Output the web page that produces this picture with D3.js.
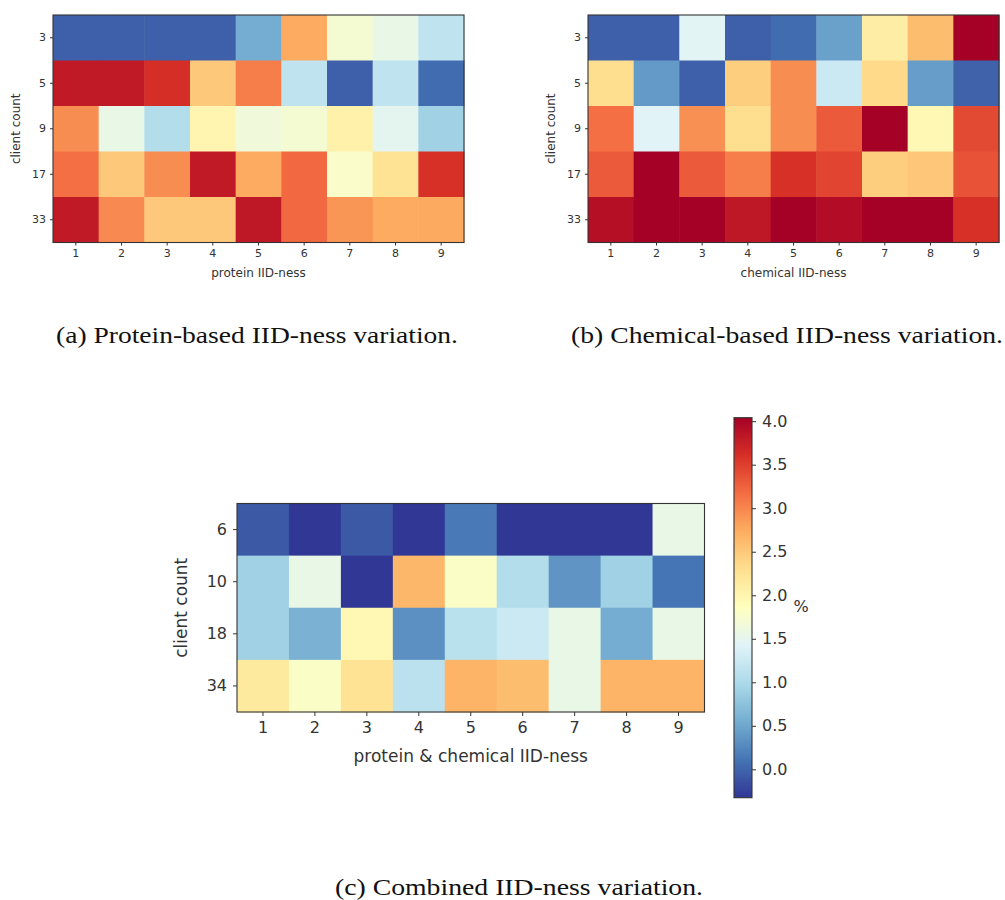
<!DOCTYPE html>
<html>
<head>
<meta charset="utf-8">
<script src="https://cdn.jsdelivr.net/npm/d3@7"></script>
<style>
  html, body { margin: 0; padding: 0; background: #fff; }
  svg { display: block; }
  .tick text { font-family: "DejaVu Sans", sans-serif; fill: #333; }
  .tick line { stroke: #333; }
  .caption { font-family: "Liberation Serif", "DejaVu Serif", serif; fill: #111; }
  .axis-label { font-family: "DejaVu Sans", sans-serif; fill: #333; }
</style>
</head>
<body>
<svg id="fig" width="1005" height="900"></svg>
<script>
// IID-ness levels along the x axis (shared by all three heatmaps)
const iidLevels = [1, 2, 3, 4, 5, 6, 7, 8, 9];

// (a) protein-based split: client counts and accuracy change (%)
const proteinClients = [3, 5, 9, 17, 33];
const proteinValues = [
  [-0.04, -0.04, -0.04, -0.04, 0.55, 2.75, 1.70, 1.55, 1.15],
  [3.80, 3.80, 3.62, 2.50, 3.05, 1.15, -0.04, 1.15, 0.05],
  [2.95, 1.55, 1.05, 2.00, 1.65, 1.70, 2.05, 1.48, 0.90],
  [3.15, 2.50, 2.95, 3.80, 2.75, 3.20, 1.78, 2.25, 3.60],
  [3.80, 2.97, 2.50, 2.50, 3.82, 3.20, 2.90, 2.75, 2.76]
];

// (b) chemical-based split
const chemicalClients = [3, 5, 9, 17, 33];
const chemicalValues = [
  [-0.04, -0.04, 1.45, -0.04, 0.05, 0.45, 2.10, 2.60, 4.05],
  [2.30, 0.40, -0.04, 2.45, 2.95, 1.25, 2.35, 0.42, -0.02],
  [3.15, 1.43, 2.93, 2.30, 2.95, 3.30, 4.05, 1.95, 3.42],
  [3.30, 4.05, 3.30, 3.05, 3.60, 3.45, 2.45, 2.52, 3.35],
  [3.90, 4.05, 4.05, 3.82, 4.05, 3.93, 4.05, 4.05, 3.60]
];

// (c) combined protein & chemical split
const combinedClients = [6, 10, 18, 34];
const combinedValues = [
  [-0.08, -0.32, -0.08, -0.32, 0.15, -0.32, -0.32, -0.32, 1.55],
  [0.90, 1.55, -0.32, 2.65, 1.80, 1.05, 0.35, 0.90, 0.11],
  [0.90, 0.60, 1.95, 0.32, 1.10, 1.25, 1.55, 0.55, 1.55],
  [2.15, 1.80, 2.25, 1.12, 2.68, 2.60, 1.55, 2.68, 2.68]
];

// colour bar range and tick labels
const colorMin = -0.326;
const colorMax = 4.04;
const colorbarTicks = [0.0, 0.5, 1.0, 1.5, 2.0, 2.5, 3.0, 3.5, 4.0];

// captions
const captionA = "(a) Protein-based IID-ness variation.";
const captionB = "(b) Chemical-based IID-ness variation.";
const captionC = "(c) Combined IID-ness variation.";

// RdYlBu reversed, piecewise linear between the 11 anchor colours
const anchors = d3.schemeRdYlBu[11].slice().reverse();
const color = d3.scaleLinear()
  .domain(anchors.map((_, i) => colorMin + (colorMax - colorMin) * i / (anchors.length - 1)))
  .range(anchors)
  .interpolate(d3.interpolateRgb)
  .clamp(true);

const svg = d3.select("#fig");

function heatmap(opts) {
  const g = svg.append("g");
  const x = d3.scaleBand().domain(iidLevels).range([opts.left, opts.right]);
  const y = d3.scaleBand().domain(opts.rows).range([opts.top, opts.bottom]);

  opts.values.forEach((row, ri) => {
    row.forEach((v, ci) => {
      g.append("rect")
        .attr("x", x(iidLevels[ci]))
        .attr("y", y(opts.rows[ri]))
        .attr("width", x.bandwidth() + 0.5)
        .attr("height", y.bandwidth() + 0.5)
        .attr("fill", color(v));
    });
  });

  g.append("rect")
    .attr("x", opts.left).attr("y", opts.top)
    .attr("width", opts.right - opts.left)
    .attr("height", opts.bottom - opts.top)
    .attr("fill", "none")
    .attr("stroke", "#333")
    .attr("stroke-width", 1.1);

  const xa = g.append("g")
    .attr("transform", `translate(0,${opts.bottom})`)
    .call(d3.axisBottom(x).tickSize(opts.tick).tickPadding(opts.pad));
  xa.select(".domain").remove();
  xa.selectAll("text").style("font-size", opts.font + "px");

  const ya = g.append("g")
    .attr("transform", `translate(${opts.left},0)`)
    .call(d3.axisLeft(y).tickSize(opts.tick).tickPadding(opts.pad));
  ya.select(".domain").remove();
  ya.selectAll("text").style("font-size", opts.font + "px");

  g.append("text").attr("class", "axis-label")
    .attr("x", (opts.left + opts.right) / 2)
    .attr("y", opts.xLabelY)
    .attr("text-anchor", "middle")
    .attr("dominant-baseline", "central")
    .style("font-size", opts.labelFont + "px")
    .text(opts.xLabel);

  g.append("text").attr("class", "axis-label")
    .attr("transform", `translate(${opts.yLabelX},${(opts.top + opts.bottom) / 2}) rotate(-90)`)
    .attr("text-anchor", "middle")
    .attr("dominant-baseline", "central")
    .style("font-size", opts.labelFont + "px")
    .text(opts.yLabel);
}

heatmap({
  left: 53, right: 464, top: 15, bottom: 242.5,
  rows: proteinClients, values: proteinValues,
  tick: 3, pad: 4, font: 11, labelFont: 12,
  xLabel: "protein IID-ness", xLabelY: 273,
  yLabel: "client count", yLabelX: 16
});

heatmap({
  left: 588, right: 999, top: 15, bottom: 242.5,
  rows: chemicalClients, values: chemicalValues,
  tick: 3, pad: 4, font: 11, labelFont: 12,
  xLabel: "chemical IID-ness", xLabelY: 273,
  yLabel: "client count", yLabelX: 551
});

heatmap({
  left: 237, right: 704.5, top: 503.5, bottom: 712,
  rows: combinedClients, values: combinedValues,
  tick: 4, pad: 6, font: 16, labelFont: 17,
  xLabel: "protein & chemical IID-ness", xLabelY: 756,
  yLabel: "client count", yLabelX: 181
});

// colour bar
const cb = { left: 734, right: 752, top: 417.7, bottom: 797.7 };
const defs = svg.append("defs");
const grad = defs.append("linearGradient")
  .attr("id", "cbgrad")
  .attr("x1", 0).attr("y1", 1).attr("x2", 0).attr("y2", 0);
d3.range(0, 1.0001, 0.02).forEach(t => {
  grad.append("stop")
    .attr("offset", t)
    .attr("stop-color", color(colorMin + t * (colorMax - colorMin)));
});
svg.append("rect")
  .attr("x", cb.left).attr("y", cb.top)
  .attr("width", cb.right - cb.left).attr("height", cb.bottom - cb.top)
  .attr("fill", "url(#cbgrad)")
  .attr("stroke", "#333").attr("stroke-width", 1.1);

const cy = d3.scaleLinear().domain([colorMin, colorMax]).range([cb.bottom, cb.top]);
const cba = svg.append("g")
  .attr("transform", `translate(${cb.right},0)`)
  .call(d3.axisRight(cy).tickValues(colorbarTicks).tickFormat(d3.format(".1f")).tickSize(4).tickPadding(6));
cba.select(".domain").remove();
cba.selectAll("text").style("font-size", "16px");

svg.append("text").attr("class", "axis-label")
  .attr("x", 801).attr("y", 606)
  .attr("text-anchor", "middle")
  .attr("dominant-baseline", "central")
  .style("font-size", "16px")
  .text("%");

// captions
function caption(text, x, y, anchor, width) {
  svg.append("text").attr("class", "caption")
    .attr("x", x).attr("y", y)
    .attr("text-anchor", anchor)
    .attr("textLength", width)
    .attr("lengthAdjust", "spacingAndGlyphs")
    .style("font-size", "24px")
    .text(text);
}
caption(captionA, 257, 343, "middle", 402);
caption(captionB, 571, 343, "start", 432);
caption(captionC, 519, 895, "middle", 368);
</script>
</body>
</html>
